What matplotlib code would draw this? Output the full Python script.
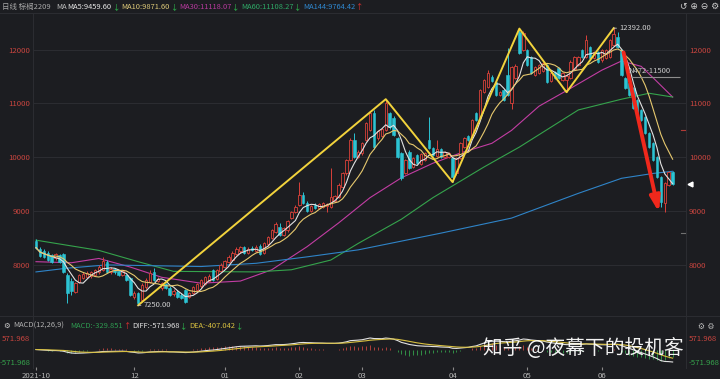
import numpy as np
import pandas as pd
import matplotlib
matplotlib.use('Agg')
import matplotlib.pyplot as plt
from matplotlib.lines import Line2D
from matplotlib.transforms import blended_transform_factory

plt.rcParams['font.family'] = ['Noto Sans CJK SC', 'DejaVu Sans']

# 日线 K 线 (棕榈2209), 每根一个交易日
opens = [8450, 8300, 8260, 8230, 8180, 8120, 8180, 8200, 7820, 7700,
         7500, 7690, 7760, 7780, 7790, 7820, 7860, 7900, 8060, 7870,
         7920, 7880, 7820, 7810, 7750, 7400, 7480, 7350, 7590, 7690,
         7870, 7700, 7570, 7640, 7570, 7460, 7500, 7450, 7530, 7400,
         7480, 7530, 7600, 7650, 7700, 7900, 7740, 7880, 7960, 8050,
         8100, 8200, 8250, 8330, 8220, 8320, 8260, 8350, 8220, 8380,
         8500, 8620, 8700, 8560, 8640, 8880, 8980, 9110, 9300, 9150,
         9000, 9120, 9060, 9080, 9100, 9070, 9180, 9270, 9450, 9700,
         9950, 10320, 10000, 10080, 10320, 10500, 10820, 10350, 10400, 10500,
         10820, 10730, 10360, 10080, 9710, 10100, 9820, 10050, 9880, 9950,
         10320, 10180, 10020, 10150, 10000, 10010, 9985, 9700, 9990, 10190,
         10400, 10380, 10820, 10750, 11210, 11310, 11500, 11400, 11150, 11250,
         11530, 11010, 11480, 12330, 11990, 11990, 11860, 11530, 11570, 11600,
         11710, 11420, 11580, 11660, 11430, 11440, 11480, 11650, 11710, 11990,
         11870, 12050, 11850, 11950, 11800, 11850, 11870, 12090, 12240, 11990,
         11470, 11380, 11290, 11070, 10880, 10750, 10450, 10260, 10000, 9630,
         9150, 9480, 9720]
highs = [8480, 8330, 8290, 8260, 8200, 8230, 8210, 8230, 7850, 7760,
         7680, 7830, 7870, 7880, 7890, 7930, 7990, 8150, 8090, 7960,
         7950, 7910, 7910, 7840, 7780, 7510, 7500, 7660, 7760, 7900,
         7950, 7780, 7680, 7670, 7600, 7550, 7530, 7480, 7550, 7500,
         7610, 7660, 7740, 7800, 7830, 7930, 7920, 8030, 8100, 8180,
         8260, 8330, 8360, 8360, 8330, 8350, 8370, 8380, 8420, 8540,
         8670, 8790, 8780, 8700, 8840, 9000, 9110, 9540, 9360, 9180,
         9120, 9150, 9150, 9170, 9150, 9800, 9300, 9520, 9720, 9970,
         10350, 10450, 10130, 10280, 10650, 10840, 10870, 10500, 10550, 11080,
         10850, 10760, 10380, 10100, 9970, 10130, 10000, 10070, 10080, 10100,
         10750, 10200, 10320, 10170, 10120, 10100, 10000, 10000, 10280, 10380,
         10420, 10710, 10850, 11270, 11460, 11620, 11530, 11420, 11240, 11270,
         12030, 11700, 11730, 12392, 12340, 12010, 11880, 11700, 11740, 11770,
         11730, 11580, 11600, 11680, 11580, 11540, 11800, 11880, 11880, 12010,
         12270, 12070, 11970, 11970, 12010, 12010, 12200, 12400, 12330, 12010,
         11500, 11400, 11310, 11090, 10900, 10770, 10470, 10280, 10020, 9650,
         9540, 9750, 9740]
lows = [8300, 8140, 8130, 8080, 8040, 8100, 8040, 7850, 7300, 7440,
        7470, 7660, 7730, 7750, 7760, 7790, 7830, 7880, 7850, 7840,
        7830, 7790, 7800, 7700, 7430, 7370, 7250, 7320, 7560, 7670,
        7700, 7680, 7540, 7560, 7420, 7430, 7390, 7360, 7290, 7380,
        7460, 7510, 7580, 7630, 7680, 7700, 7720, 7860, 7940, 8030,
        8080, 8180, 8230, 8200, 8200, 8250, 8240, 8180, 8200, 8360,
        8480, 8600, 8540, 8530, 8620, 8860, 8960, 9090, 9130, 8980,
        8980, 9030, 9040, 9060, 8980, 9050, 9160, 9250, 9430, 9680,
        9930, 9980, 9980, 10050, 10300, 10480, 10150, 10320, 10380, 10480,
        10530, 10390, 9990, 9570, 9690, 9780, 9800, 9880, 9860, 9930,
        10150, 10030, 10000, 9990, 9980, 9990, 9540, 9680, 9970, 10170,
        10300, 10360, 10670, 10730, 11190, 11290, 11400, 11130, 11130, 11050,
        11130, 10900, 11460, 11920, 11970, 11690, 11550, 11510, 11550, 11580,
        11380, 11400, 11460, 11450, 11410, 11210, 11460, 11630, 11690, 11840,
        11850, 11830, 11830, 11760, 11780, 11830, 11850, 12070, 12030, 11510,
        11270, 11140, 10900, 10800, 10670, 10430, 10170, 9930, 9610, 9080,
        8990, 9460, 9480]
closes = [8320, 8160, 8150, 8100, 8060, 8200, 8060, 7870, 7480, 7520,
          7660, 7810, 7840, 7850, 7860, 7900, 7960, 8080, 7870, 7920,
          7860, 7820, 7880, 7720, 7450, 7480, 7290, 7630, 7720, 7850,
          7720, 7740, 7660, 7580, 7440, 7520, 7410, 7380, 7310, 7480,
          7590, 7640, 7720, 7780, 7800, 7720, 7900, 8000, 8080, 8150,
          8230, 8300, 8330, 8220, 8300, 8270, 8340, 8200, 8400, 8520,
          8650, 8760, 8560, 8680, 8820, 8980, 9080, 9300, 9150, 9000,
          9100, 9050, 9130, 9150, 9130, 9260, 9280, 9480, 9700, 9950,
          10320, 10000, 10100, 10260, 10630, 10820, 10200, 10480, 10520, 11000,
          10560, 10410, 10010, 9610, 9950, 9800, 9980, 9900, 10060, 10080,
          10170, 10050, 10150, 10010, 10100, 10080, 9630, 9980, 10260, 10360,
          10320, 10690, 10690, 11250, 11440, 11570, 11420, 11150, 11220, 11070,
          11150, 11680, 11700, 11940, 12310, 11710, 11570, 11680, 11720, 11750,
          11400, 11560, 11480, 11470, 11560, 11520, 11780, 11860, 11860, 11860,
          12180, 11850, 11950, 11780, 11990, 11990, 12180, 12300, 12050, 11530,
          11290, 11160, 10920, 10820, 10690, 10450, 10190, 9950, 9630, 9170,
          9520, 9730, 9500]

# 月份刻度 (所在 K 线序号)
month_idx = [0, 25, 48, 67, 83, 106, 125, 144]
month_labels = ['2021-10', '12', '01', '02', '03', '04', '05', '06']

# 长周期均线
ma30_idx = [0, 9, 16, 24, 32, 42, 52, 60, 69, 77, 85, 93, 101, 108, 116, 121,
            128, 136, 144, 149, 154, 157, 162]
ma30_val = [8060, 8040, 8120, 7960, 7770, 7660, 7700, 7910, 8340, 8780, 9250,
            9620, 9890, 10080, 10260, 10500, 10950, 11280, 11620, 11790, 11690,
            11480, 11120]
ma60_idx = [0, 16, 26, 35, 56, 65, 75, 82, 93, 101, 114, 123, 138, 149, 156, 162]
ma60_val = [8460, 8270, 8060, 7880, 7870, 7910, 8090, 8400, 8850, 9250, 9820,
            10190, 10880, 11080, 11190, 11120]
ma144_idx = [0, 8, 18, 42, 56, 69, 82, 103, 121, 138, 149, 157, 162]
ma144_val = [7870, 7940, 8000, 7970, 8030, 8150, 8280, 8590, 8870, 9330, 9610,
             9700, 9740]

# 画线: 黄色折线, 红色箭头, 水平线
zigzag_idx = [26, 89, 106, 123, 135, 147]
zigzag_val = [7250, 11080, 9540, 12392, 11210, 12400]
arrow_from = (149.5, 11950)
arrow_to = (158.5, 8980)
level_val = 11500
level_from = 150.5

BG = '#1c1d21'
GRID = '#2c2d32'
RED = '#d9413a'
CYAN = '#2cc3d3'
W, H = 720, 379


def fx(x):
    return x / W


def fy(y):
    return 1 - y / H


fig = plt.figure(figsize=(7.2, 3.79), dpi=100, facecolor=BG)
renderer = fig.canvas.get_renderer()


def text_row(items, y, size, gap=1.5):
    # 一行彩色文字, 按参考位置放置, 不够位置时往后挪
    end = 0
    for px, txt, col, fam in items:
        px = max(px, end + gap)
        t = fig.text(fx(px), fy(y), txt, color=col, fontsize=size, va='center',
                     ha='left', family=fam)
        end = px + t.get_window_extent(renderer).width


# 主图
ax = fig.add_axes([fx(33), fy(312), (686 - 33) / W, (312 - 16) / H], facecolor=BG)
n = len(closes)
x = np.arange(n)
o = np.array(opens)
c = np.array(closes)
hi = np.array(highs)
lo = np.array(lows)
up = c >= o

ax.vlines(x[up], lo[up], hi[up], color=RED, lw=0.7, zorder=3)
ax.vlines(x[~up], lo[~up], hi[~up], color=CYAN, lw=0.7, zorder=3)
ax.bar(x[up], c[up] - o[up], bottom=o[up], width=0.62, facecolor=BG,
       edgecolor=RED, lw=0.6, zorder=4)
ax.bar(x[~up], c[~up] - o[~up], bottom=o[~up], width=0.62, facecolor=CYAN,
       edgecolor=CYAN, lw=0.4, zorder=4)

s = pd.Series(closes, dtype=float)
ma5 = s.rolling(5, min_periods=1).mean()
ma10 = s.rolling(10, min_periods=1).mean()
ax.plot(x, ma5, color='#e2e2e2', lw=0.8, zorder=5)
ax.plot(x, ma10, color='#e6c86e', lw=0.8, zorder=5)
ax.plot(ma30_idx, ma30_val, color='#c23da3', lw=0.8, zorder=2)
ax.plot(ma60_idx, ma60_val, color='#35a34c', lw=0.8, zorder=2)
ax.plot(ma144_idx, ma144_val, color='#2f84c8', lw=0.8, zorder=2)

ax.plot(zigzag_idx, zigzag_val, color='#f2d33c', lw=1.4, zorder=6)
ax.annotate('', xy=arrow_to, xytext=arrow_from, zorder=7,
            arrowprops=dict(arrowstyle='-|>,head_length=0.9,head_width=0.3',
                            color='#f0281c', lw=2.8, shrinkA=0, shrinkB=0))
ax.hlines(level_val, level_from, n + 1, color='#8e8e8e', lw=0.8, zorder=6)
ax.text(level_from + 0.3, level_val + 30, 'N472-11500', color='#c8c8c8',
        fontsize=5.5, va='bottom', ha='left', zorder=7)

# 最高/最低点标注
i_hi = int(np.argmax(hi))
i_lo = int(np.argmin(lo))
for i, v, txt in [(i_hi, hi[i_hi], '12392.00'), (i_lo, lo[i_lo], '7250.00')]:
    ax.annotate(txt, xy=(i, v), xytext=(4, 0), textcoords='offset points',
                color='#d0d0d0', fontsize=5.5, va='center', ha='left', zorder=8,
                arrowprops=dict(arrowstyle='-', color='#d0d0d0', lw=0.6,
                                shrinkA=0, shrinkB=0))

ax.set_xlim(-0.76, 165.4)
ax.set_ylim(7125, 12626)
ax.set_yticks([8000, 9000, 10000, 11000, 12000])
ax.tick_params(axis='y', labelleft=True, labelright=True, length=0, pad=2,
               labelsize=5.6, labelcolor='#c8453f')
ax.set_xticks([])
ax.grid(axis='y', color=GRID, lw=0.7)
for sp in ax.spines.values():
    sp.set_visible(False)

# 现价标记和右侧小刻度
tr = blended_transform_factory(ax.transAxes, ax.transData)
ax.plot([1.006], [closes[-1]], marker='<', color='white', ms=3.5,
        transform=tr, clip_on=False)
ax.plot([0.993, 1.0], [10500, 10500], color='#b03a36', lw=0.8, transform=tr,
        clip_on=False)
ax.plot([0.993, 1.0], [8600, 8600], color='#707070', lw=0.8, transform=tr,
        clip_on=False)

# MACD 副图
ema12 = s.ewm(span=12, adjust=False).mean()
ema26 = s.ewm(span=26, adjust=False).mean()
diff = ema12 - ema26
dea = diff.ewm(span=9, adjust=False).mean()
macd = 2 * (diff - dea)
d_top = max(diff.max(), dea.max())
d_bot = min(diff.min(), dea.min())
span = d_top - d_bot

ax2 = fig.add_axes([fx(33), fy(367), (686 - 33) / W, (367 - 330) / H], facecolor=BG)
pos = macd >= 0
ax2.vlines(x[pos], 0, macd[pos], color='#c8453f', lw=0.6)
ax2.vlines(x[~pos], 0, macd[~pos], color='#35a34c', lw=0.6)
ax2.plot(x, diff, color='#e2e2e2', lw=0.8)
ax2.plot(x, dea, color='#d8c040', lw=0.8)
ax2.set_xlim(-0.76, 165.4)
ax2.set_ylim(d_bot - span * 5 / 24, d_top + span * 8 / 24)
ax2.set_yticks([d_top, d_bot])
ax2.set_yticklabels(['571.968', '-571.968'])
ax2.tick_params(axis='y', labelleft=True, labelright=True, length=0, pad=2,
                labelsize=5.6)
for t, col in zip(ax2.yaxis.get_major_ticks(), ['#c8453f', '#35a34c']):
    t.label1.set_color(col)
    t.label2.set_color(col)
ax2.set_xticks(month_idx)
ax2.set_xticklabels(month_labels)
ax2.tick_params(axis='x', length=2, color='#8a8a8a', labelcolor='#b8b8b8',
                labelsize=5.6, pad=1.5)
for sp in ax2.spines.values():
    sp.set_visible(False)

# 分隔线
for xx in [33, 686]:
    fig.add_artist(Line2D([fx(xx), fx(xx)], [fy(13), fy(368)], color=GRID, lw=0.7))
fig.add_artist(Line2D([0, 1], [fy(13), fy(13)], color=GRID, lw=0.7))
fig.add_artist(Line2D([0, 1], [fy(316), fy(316)], color=GRID, lw=0.7))

# 顶部标题
cjk = ['Noto Sans CJK SC', 'DejaVu Sans']
head = [(2, '日线 棕榈2209', '#a8a8a8', cjk), (56, 'MA', '#bdbdbd', cjk),
        (66, 'MA5:9459.60', '#e6e6e6', cjk), (111, '↓', '#2ebd4e', cjk),
        (118, 'MA10:9871.60', '#dcc878', cjk), (168, '↓', '#2ebd4e', cjk),
        (174, 'MA30:11118.07', '#b8399e', cjk), (227, '↓', '#2ebd4e', cjk),
        (233, 'MA60:11108.27', '#2ea866', cjk), (286, '↓', '#2ebd4e', cjk),
        (292, 'MA144:9764.42', '#2f88d0', cjk), (345, '↑', '#e03030', cjk)]
text_row(head, 7, 5.4, gap=1.0)
fig.text(fx(680), fy(6), '↺ ⊕ ⊖ ⚙', color='#cfcfcf', fontsize=6.5,
         va='center', ha='left', family='DejaVu Sans')

mhead = [(3, '⚙', '#cfcfcf', 'DejaVu Sans'), (13, 'MACD(12,26,9)', '#b0b0b0', cjk),
         (70, 'MACD:-329.851', '#2e9a50', cjk), (123, '↑', '#e03030', cjk),
         (130, 'DIFF:-571.968', '#e0e0e0', cjk), (176, '↓', '#2ebd4e', cjk),
         (183, 'DEA:-407.042', '#d8c040', cjk), (229, '↓', '#2ebd4e', cjk)]
text_row(mhead, 326, 5.4, gap=1.0)
fig.text(fx(698), fy(326), '⚙ ⚙', color='#bdbdbd', fontsize=5.6, va='center',
         ha='left', family='DejaVu Sans')

# 水印
fig.text(fx(684), fy(348), '知乎 @夜幕下的投机客', color='white', fontsize=14.2,
         va='center', ha='right', alpha=0.95)

fig.savefig('out.png', dpi=100, facecolor=BG)
